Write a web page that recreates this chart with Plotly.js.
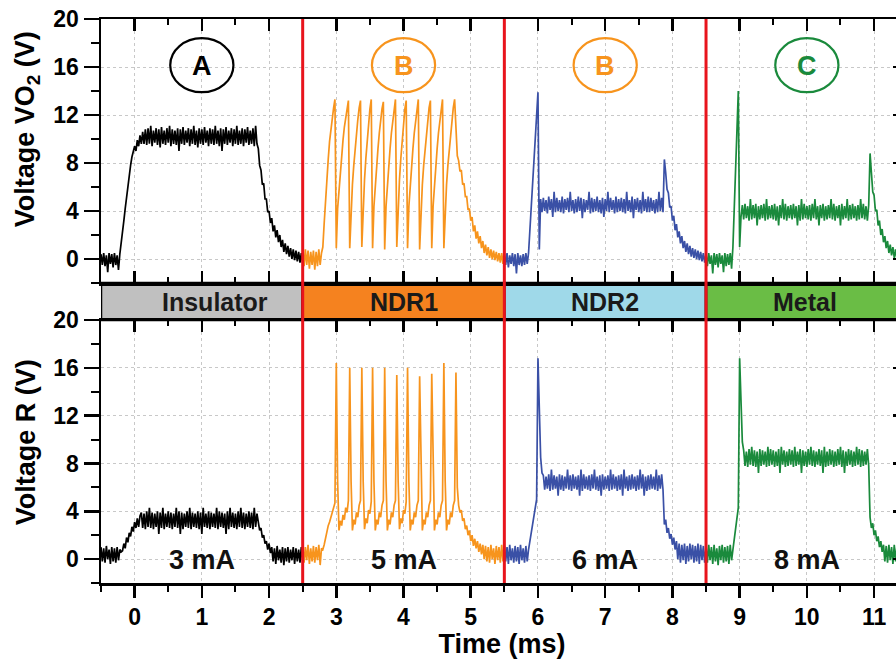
<!DOCTYPE html>
<html><head><meta charset="utf-8">
<script src="https://cdn.plot.ly/plotly-3.0.1.min.js"></script>
<style>html,body{margin:0;padding:0;overflow:hidden;background:#fff}#chart{width:904px;height:659px}</style>
</head><body><div id="chart"></div>
<script>
// ---------- DATA (oscilloscope traces sampled every 0.02 ms) ----------
const sampleStep = 0.02;               // ms between samples
const segmentStart = [-0.5, 2.5, 5.5, 8.5]; // ms, start of each current step
const currents = ['3 mA', '5 mA', '6 mA', '8 mA'];
const phases = ['Insulator', 'NDR1', 'NDR2', 'Metal'];
const phaseEdges = [-0.5, 2.5, 5.5, 8.5, 11.43];
const regimeLetters = ['A', 'B', 'B', 'C'];
const letterCenters = [1, 4, 7, 10];
const boundaries = [2.5, 5.5, 8.5];

// --- Voltage across VO2 (top panel) ---
const topA_base = [0.4,-0.5,0.5,-0.6,0.3,-1.1,0.5,-0.4,0.4,-0.7,0.5,-0.5,0.3,-0.9];
const topA_rise = [0.4,1.2,2.2,3.2,4.2,5.2,6.1,7.0,7.8,8.5,9.0,9.4,9.0,9.9,9.4,10.3,9.6,10.6,9.6];
const topA_plateau = [10.8,9.5,10.9,9.6,11.1,9.4,10.7,9.7,10.9,9.5,10.8,9.3,11.0,9.6,10.7,9.5,10.9,9.7,11.1,9.4,
 10.8,9.6,10.7,9.5,10.9,9.0,10.8,9.6,11.0,9.5,10.7,9.7,10.9,9.4,10.8,9.6,11.1,9.5,10.7,9.3,
 10.9,9.6,10.8,9.5,11.0,9.7,10.7,9.4,10.9,9.6,10.8,9.5,11.1,9.6,10.7,9.4,10.9,9.0,10.8,9.6,
 11.0,9.5,10.7,9.7,10.9,9.4,10.8,9.6,11.1,9.5,10.7,9.6,10.9,9.4,10.8,9.7,11.0,9.5,10.7,9.6,
 10.9,9.4,11.1,9.6];
const topA_fall = [9.2,7.8,7.4,6.2,6.3,5.0,5.0,3.9,4.0,3.0,3.4,2.3,2.8,1.8,2.4,1.4,2.0,1.0,1.6,0.6,
 1.3,0.4,1.1,0.2,0.9,0.0,0.8,-0.1,0.7,-0.2,0.6,-0.3,0.5,-0.3];

const topB1_base = [0.6,-0.6,0.8,-0.5,0.7,-0.8,0.6,-0.5,0.7,-0.9,0.6,-0.6,0.8,-0.5,0.5];
const topB1_rise = [1.0,3.0,5.0,6.9,8.3,9.8,10.9,11.8,12.6,13.3];
const topB1_osc = [
 0.9,4.2,5.8,7.3,8.7,9.9,11.0,11.9,12.7,13.2,
 0.9,4.4,6.2,7.8,9.2,10.5,11.6,12.6,13.2,
 1.0,4.6,6.6,8.4,10.0,11.4,12.5,13.3,
 0.9,4.4,6.2,7.8,9.2,10.5,11.6,12.5,13.1,
 0.8,4.4,6.2,7.8,9.2,10.5,11.6,12.6,13.3,
 1.0,4.6,6.6,8.4,10.0,11.4,12.5,13.2,
 0.9,4.4,6.2,7.8,9.2,10.5,11.6,12.6,13.3,
 0.8,4.4,6.2,7.8,9.2,10.5,11.6,12.6,13.2,
 0.9,4.4,6.2,7.8,9.2,10.5,11.6,12.6,13.3,
 0.9,4.4,6.2,7.8,9.2,10.5,11.6,12.6,13.3];
const topB1_fall = [10.6,8.6,8.2,7.3,7.4,6.2,6.3,5.2,5.2,4.1,4.2,3.2,3.5,2.3,2.8,1.7,2.3,1.3,1.9,0.9,1.5,0.5,
 1.2,0.3,1.0,0.1,0.8,0.0,0.7,-0.1,0.6,-0.2,0.5,-0.3,0.5,-0.4,0.4];

const topB2_base = [0.4,-0.5,0.5,-0.7,0.3,-0.4,0.5,-0.6,0.4,-1.2,0.5,-0.5,0.3,-0.6,0.4,-0.5,0.5,-0.4];
const topB2_rise = [0.5,2.5,4.5,6.4,8.3,10.2,12.0,13.9,0.8];
const topB2_plateau = [5.0,3.9,5.1,4.0,4.9,3.8,5.2,4.1,5.0,3.5,5.6,3.9,5.1,4.0,4.9,3.9,5.2,3.8,5.0,4.1,
 5.1,3.9,5.6,4.0,4.9,3.8,5.0,3.9,5.2,4.0,5.1,3.4,5.0,3.9,4.9,4.1,5.6,3.8,5.1,3.9,
 5.0,4.0,5.2,3.9,4.9,3.8,5.1,3.5,5.0,4.0,5.6,3.9,5.1,4.1,4.9,3.8,5.2,3.9,5.0,4.0,
 5.1,3.9,5.0,3.8,5.6,4.0,4.9,3.9,5.2,3.4,5.0,4.1,5.1,3.9,4.9,3.8,5.6,4.0,5.0,3.9,
 5.2,3.9,5.1,4.0,4.9,3.8,5.0,3.9,5.6,4.0,5.1,3.9];
const topB2_fall = [8.3,7.2,5.8,5.5,4.3,4.4,3.2,3.6,2.4,2.9,1.8,2.3,1.3,1.9,0.9,1.5,0.6,1.3,0.4,1.1,0.2,
 0.9,0.1,0.8,0.0,0.7,-0.1,0.6,-0.2,0.5,-0.3,0.4];

const topC_base = [0.4,-0.6,0.5,-0.4,0.3,-1.2,0.5,-0.5,0.4,-0.7,0.5,-0.4,0.3,-1.1,0.5,-0.6,0.4,-0.5,0.5,-0.8];
const topC_rise = [1.0,4.5,7.8,10.8,14.0,1.0,3.5];
const topC_plateau = [4.5,3.3,4.6,3.4,4.4,3.2,5.0,3.3,4.5,3.4,4.6,2.8,4.4,3.3,4.5,3.4,4.6,3.2,5.0,3.3,
 4.4,3.4,4.5,3.3,4.6,3.2,4.4,2.8,4.5,3.4,5.0,3.3,4.6,3.2,4.4,3.4,4.5,3.3,4.6,3.4,
 4.4,2.8,4.5,3.2,5.0,3.3,4.6,3.4,4.4,3.3,4.5,3.2,4.6,3.4,5.0,3.3,4.4,2.8,4.5,3.4,
 4.6,3.2,4.4,3.3,4.5,3.4,5.0,3.3,4.6,3.2,4.4,3.4,4.5,2.8,4.6,3.3,4.4,3.4,5.0,3.2,
 4.5,3.3,4.6,3.4,4.4,3.2,4.5,3.3,5.0,3.4,4.6,3.3,4.4,3.2,4.5];
const topC_fall = [8.8,7.2,5.6,5.3,4.0,4.1,2.8,3.2,2.0,2.5,1.4,1.9,0.9,1.5,0.5,1.2,0.3,1.0,0.1,0.8,0.0,
 0.7,-0.1,0.6,-0.2,0.5,-0.3];

// --- Voltage across series resistor R (bottom panel) ---
const botA_base = [1.0,-0.2,0.9,-0.3,1.1,0.0,0.8,-0.4,1.0,-0.2,0.9,-0.3,1.0,-0.1,0.8];
const botA_rise = [0.6,0.7,1.3,0.9,1.8,1.4,2.2,1.9,2.7,2.3,3.1,2.6,3.4,2.7,3.6];
const botA_plateau = [3.9,2.6,3.8,2.5,4.0,2.7,4.3,2.6,3.9,2.5,3.8,2.7,4.0,2.1,3.9,2.6,4.3,2.5,3.8,2.7,
 4.0,2.6,3.9,2.5,3.8,2.7,4.3,2.6,4.0,2.1,3.9,2.5,3.8,2.7,4.0,2.6,4.3,2.5,3.9,2.7,
 3.8,2.6,4.0,2.5,3.9,2.1,4.3,2.7,3.8,2.6,4.0,2.5,3.9,2.7,3.8,2.6,4.3,2.5,4.0,2.7,
 3.9,2.6,3.8,2.1,4.0,2.5,4.3,2.7,3.9,2.6,3.8,2.5,4.0,2.7,4.3,2.6,3.9,2.5,3.8,2.7,
 4.0,2.6,3.9,2.5,4.3,2.7,3.8];
const botA_fall = [3.0,2.4,2.6,1.8,2.0,1.3,1.5,0.8,1.3,0.5,
 1.0,-0.2,0.9,-0.4,1.1,-0.1,0.8,-0.3,1.0,-0.5,0.9,-0.2,1.0,-0.3,0.8,-0.1,1.0,-0.4,0.9,-0.2,0.8,-0.3,1.0,-0.1];

const botB1_base = [1.1,-0.3,1.0,-0.1,1.2,-0.4,0.9,-0.2,1.1,-0.3,1.0,-0.1,1.2,-0.5,0.9];
const botB1_rise = [0.8,1.2,1.8,2.2,2.8,3.1,3.6,3.9,4.3,4.7];
const botB1_spikes = [16.4,
 6.5,2.4,3.2,2.8,3.7,3.3,4.3,3.9,4.9,16.0,
 6.5,2.4,3.3,2.9,3.9,3.5,4.5,4.9,16.0,
 6.5,2.5,3.4,3.0,4.1,3.8,4.8,16.0,
 6.5,2.4,3.3,2.9,3.9,3.5,4.5,4.9,16.0,
 6.5,2.4,3.3,2.9,3.9,3.5,4.5,4.9,15.4,
 6.5,2.5,3.4,3.0,4.1,3.8,4.8,16.0,
 6.5,2.4,3.3,2.9,3.9,3.5,4.5,4.9,15.3,
 6.5,2.4,3.3,2.9,3.9,3.5,4.5,4.9,15.5,
 6.5,2.4,3.3,2.9,3.9,3.5,4.5,4.9,16.4,
 6.5,2.4,3.3,2.9,3.9,3.5,4.5,4.9,15.6];
const botB1_fall = [6.0,4.5,3.9,4.1,3.2,3.4,2.5,2.8,2.0,2.4,1.5,2.0,1.1,1.7,0.9,1.5,0.6,1.3,0.4,1.2,
 0.0,1.1,-0.2,1.0,-0.3,1.2,0.0,0.9,-0.4,1.1,-0.1,1.0,-0.3,1.2,-0.2,0.9];

const botB2_base = [1.1,-0.2,1.0,-0.4,1.2,-0.1,0.9,-0.3,1.1,-0.2,1.0,-0.4,1.2,-0.1,0.9,-0.3,1.1,-0.2];
const botB2_rise = [0.8,1.5,2.2,2.9,3.5,4.2,5.0,16.8,12.0,8.5,7.2];
const botB2_plateau = [7.0,5.8,6.9,5.9,7.1,5.7,7.5,5.8,7.0,5.9,6.9,5.3,7.1,5.8,7.0,5.7,6.9,5.9,7.5,5.8,
 7.0,5.7,7.1,5.9,6.9,5.8,7.0,5.3,7.5,5.7,7.1,5.9,6.9,5.8,7.0,5.7,7.1,5.9,7.5,5.8,
 6.9,5.7,7.0,5.3,7.1,5.8,6.9,5.9,7.0,5.7,7.5,5.8,7.1,5.9,6.9,5.7,7.0,5.8,7.1,5.3,
 7.5,5.9,6.9,5.7,7.0,5.8,7.1,5.9,6.9,5.7,7.0,5.8,7.5,5.9,7.1,5.3,6.9,5.7,7.0,5.8,
 7.1,5.9,6.9,5.8,7.5,5.7,7.0,5.9,7.1,5.8];
const botB2_fall = [2.9,3.3,2.2,2.6,1.7,2.1,1.2,1.8,0.8,1.5,
 0.0,1.3,-0.3,1.2,-0.1,1.3,-0.4,1.1,-0.2,1.3,0.0,1.2,-0.3,1.1,-0.2,1.3,-0.4,1.2,-0.1,1.1,-0.3,1.0];

const botC_base = [1.1,-0.3,1.2,-0.1,1.0,-0.4,1.2,-0.2,0.9,-0.5,1.1,-0.1,1.2,-0.3,1.0,-0.2,1.1,-0.4,1.2,-0.1];
const botC_rise = [0.8,1.6,2.4,3.3,4.3,16.8,12.5,9.8];
const botC_plateau = [9.1,7.8,9.0,7.7,9.2,7.9,9.4,7.8,9.1,7.7,9.0,7.2,9.2,7.8,9.1,7.9,9.0,7.7,9.4,7.8,
 9.2,7.9,9.1,7.7,9.0,7.8,9.2,7.2,9.4,7.9,9.1,7.7,9.0,7.8,9.2,7.9,9.1,7.7,9.4,7.8,
 9.0,7.9,9.2,7.2,9.1,7.8,9.0,7.7,9.2,7.9,9.4,7.8,9.1,7.7,9.0,7.9,9.2,7.8,9.1,7.2,
 9.4,7.7,9.0,7.8,9.2,7.9,9.1,7.7,9.0,7.8,9.2,7.9,9.4,7.7,9.1,7.2,9.0,7.8,9.2,7.9,
 9.1,7.7,9.0,7.8,9.4,7.9,9.2,7.7,9.1,7.8,9.0,7.9,9.2,7.8];
const botC_fall = [3.5,2.6,3.0,2.0,2.4,1.5,1.9,1.0,1.5,0.6,
 1.2,-0.2,1.1,-0.3,1.2,-0.1,1.0,-0.4,1.2,-0.2,1.1,-0.3,1.2,-0.1,1.0,-0.4,1.1];

// assembled series (one per current step)
const vo2Series = [
  [].concat(topA_base, topA_rise, topA_plateau, topA_fall),
  [].concat(topB1_base, topB1_rise, topB1_osc, topB1_fall),
  [].concat(topB2_base, topB2_rise, topB2_plateau, topB2_fall),
  [].concat(topC_base, topC_rise, topC_plateau, topC_fall)
];
const rSeries = [
  [].concat(botA_base, botA_rise, botA_plateau, botA_fall),
  [].concat(botB1_base, botB1_rise, botB1_spikes, botB1_fall),
  [].concat(botB2_base, botB2_rise, botB2_plateau, botB2_fall),
  [].concat(botC_base, botC_rise, botC_plateau, botC_fall)
];

// ---------- STYLE ----------
const traceColors = ['#000000', '#f7941d', '#3a50a6', '#1a8a3c'];
const letterColors = ['#000000', '#f7941d', '#f7941d', '#1a8a3c'];
const phaseColors = ['#c0c0c0', '#f5821f', '#9fd9e9', '#6abd45'];
const FONT = '"Liberation Sans", Arial, sans-serif';
const RED = '#e8141c';

const traces = [];
vo2Series.forEach((v, k) => traces.push({
  type: 'scatter', mode: 'lines', y: v, x0: segmentStart[k], dx: sampleStep,
  xaxis: 'x2', yaxis: 'y', line: {color: traceColors[k], width: 1.7}, hoverinfo: 'skip'
}));
rSeries.forEach((v, k) => traces.push({
  type: 'scatter', mode: 'lines', y: v, x0: segmentStart[k], dx: sampleStep,
  xaxis: 'x', yaxis: 'y2', line: {color: traceColors[k], width: 1.7}, hoverinfo: 'skip'
}));
// empty traces to create the mirrored-tick overlay axes
traces.push({type:'scatter', x:[], y:[], xaxis:'x3', yaxis:'y2', hoverinfo:'skip'});
traces.push({type:'scatter', x:[], y:[], xaxis:'x2', yaxis:'y3', hoverinfo:'skip'});
traces.push({type:'scatter', x:[], y:[], xaxis:'x', yaxis:'y4', hoverinfo:'skip'});

const XR = [phaseEdges[0], phaseEdges[4]];
const YR = [-2, 20];
const TOP_DOM = [0.5319, 1];
const BOT_DOM = [0, 0.4663];

const baseX = {
  range: XR, tickmode: 'linear', tick0: 0, dtick: 1, zeroline: false,
  showline: true, linewidth: 2.5, linecolor: '#000', tickwidth: 2.5, tickcolor: '#000', ticklen: 12,
  showgrid: true, gridcolor: '#c8c8c8', griddash: 'dot', gridwidth: 1
};
const baseY = {
  range: YR, tickmode: 'linear', tick0: 0, dtick: 4, zeroline: false,
  showline: true, linewidth: 2.5, linecolor: '#000', tickwidth: 2.5, tickcolor: '#000', ticklen: 15,
  showgrid: true, gridcolor: '#c8c8c8', griddash: 'dot', gridwidth: 1,
  ticks: 'outside', tickfont: {size: 23, weight: 'bold'}, ticklabelstandoff: 0,
  minor: {ticks: 'outside', tick0: 0, dtick: 2, ticklen: 8, tickwidth: 2, tickcolor: '#000', showgrid: false}
};

const shapes = [];
const annotations = [];
// phase bar between the panels
for (let k = 0; k < 4; k++) {
  shapes.push({type: 'rect', xref: 'x', yref: 'paper', x0: phaseEdges[k], x1: phaseEdges[k+1],
    y0: BOT_DOM[1], y1: TOP_DOM[0], fillcolor: phaseColors[k], line: {color: '#000', width: 2.5}, layer: 'below'});
  annotations.push({xref: 'x', yref: 'paper', x: k === 0 ? 1.2 : (phaseEdges[k] + Math.min(phaseEdges[k+1], phaseEdges[k] + 3)) / 2,
    y: (BOT_DOM[1] + TOP_DOM[0]) / 2, text: phases[k], showarrow: false,
    font: {size: 25, weight: 'bold', color: '#1a1a1a'}});
  // regime letters in ellipses
  shapes.push({type: 'circle', xref: 'x2', yref: 'y', x0: letterCenters[k] - 0.47, x1: letterCenters[k] + 0.47,
    y0: 13.9, y1: 18.4, line: {color: letterColors[k], width: 2.2}});
  annotations.push({xref: 'x2', yref: 'y', x: letterCenters[k], y: 16.1, text: regimeLetters[k], showarrow: false,
    font: {size: 27, weight: 'bold', color: letterColors[k]}});
  // current labels
  annotations.push({xref: 'x', yref: 'y2', x: letterCenters[k], y: -0.1, text: currents[k], showarrow: false,
    font: {size: 27, weight: 'bold', color: '#111'}});
}
// y-axis titles (rotated annotations, to match their positions in the original)
annotations.push({xref: 'paper', yref: 'paper', x: -0.092, y: 0.805, xanchor: 'center', yanchor: 'middle',
  textangle: -90, showarrow: false,
  text: 'Voltage VO<sub>2</sub> (V)', font: {size: 27, weight: 'bold', color: '#000'}});
annotations.push({xref: 'paper', yref: 'paper', x: -0.094, y: 0.249, xanchor: 'center', yanchor: 'middle',
  textangle: -90, showarrow: false,
  text: 'Voltage R (V)', font: {size: 27, weight: 'bold', color: '#000'}});
boundaries.forEach(b => shapes.push({type: 'line', xref: 'x', yref: 'paper', x0: b, x1: b, y0: 0, y1: 1,
  line: {color: RED, width: 3}, layer: 'above'}));

const layout = {
  width: 904, height: 659,
  margin: {l: 101, r: 1, t: 19, b: 76},
  paper_bgcolor: '#fff', plot_bgcolor: 'rgba(0,0,0,0)',
  showlegend: false,
  font: {family: FONT, size: 20, color: '#000'},
  xaxis: Object.assign({}, baseX, {anchor: 'y2', domain: [0, 1], ticks: 'outside',
    tickfont: {size: 23, weight: 'bold'}, ticklabelstandoff: 0,
    minor: {ticks: 'outside', tick0: 0, dtick: 0.5, ticklen: 6, tickwidth: 2, tickcolor: '#000', showgrid: false},
    title: {text: 'Time (ms)', font: {size: 27, weight: 'bold'}, standoff: 0}}),
  xaxis2: Object.assign({}, baseX, {anchor: 'y', domain: [0, 1], ticks: 'inside', mirror: 'ticks', showticklabels: false,
    minor: {ticks: 'inside', tick0: 0, dtick: 0.5, ticklen: 6, tickwidth: 2, tickcolor: '#000', showgrid: false}}),
  xaxis3: Object.assign({}, baseX, {overlaying: 'x', anchor: 'y2', side: 'top', ticks: 'inside', showticklabels: false,
    showgrid: false, minor: {ticks: 'inside', tick0: 0, dtick: 0.5, ticklen: 6, tickwidth: 2, tickcolor: '#000', showgrid: false}}),
  yaxis: Object.assign({}, baseY, {domain: TOP_DOM, anchor: 'x2'}),
  yaxis2: Object.assign({}, baseY, {domain: BOT_DOM, anchor: 'x'}),
  yaxis3: {overlaying: 'y', anchor: 'x2', side: 'right', range: YR, tickmode: 'linear', tick0: 0, dtick: 4,
    ticks: 'inside', ticklen: 10, tickwidth: 2.5, tickcolor: '#000', showticklabels: false, showgrid: false,
    zeroline: false, showline: true, linewidth: 2.5, linecolor: '#000'},
  yaxis4: {overlaying: 'y2', anchor: 'x', side: 'right', range: YR, tickmode: 'linear', tick0: 0, dtick: 4,
    ticks: 'inside', ticklen: 10, tickwidth: 2.5, tickcolor: '#000', showticklabels: false, showgrid: false,
    zeroline: false, showline: true, linewidth: 2.5, linecolor: '#000'},
  shapes: shapes,
  annotations: annotations
};

Plotly.newPlot('chart', traces, layout, {staticPlot: true, displayModeBar: false});
</script>
</body></html>
